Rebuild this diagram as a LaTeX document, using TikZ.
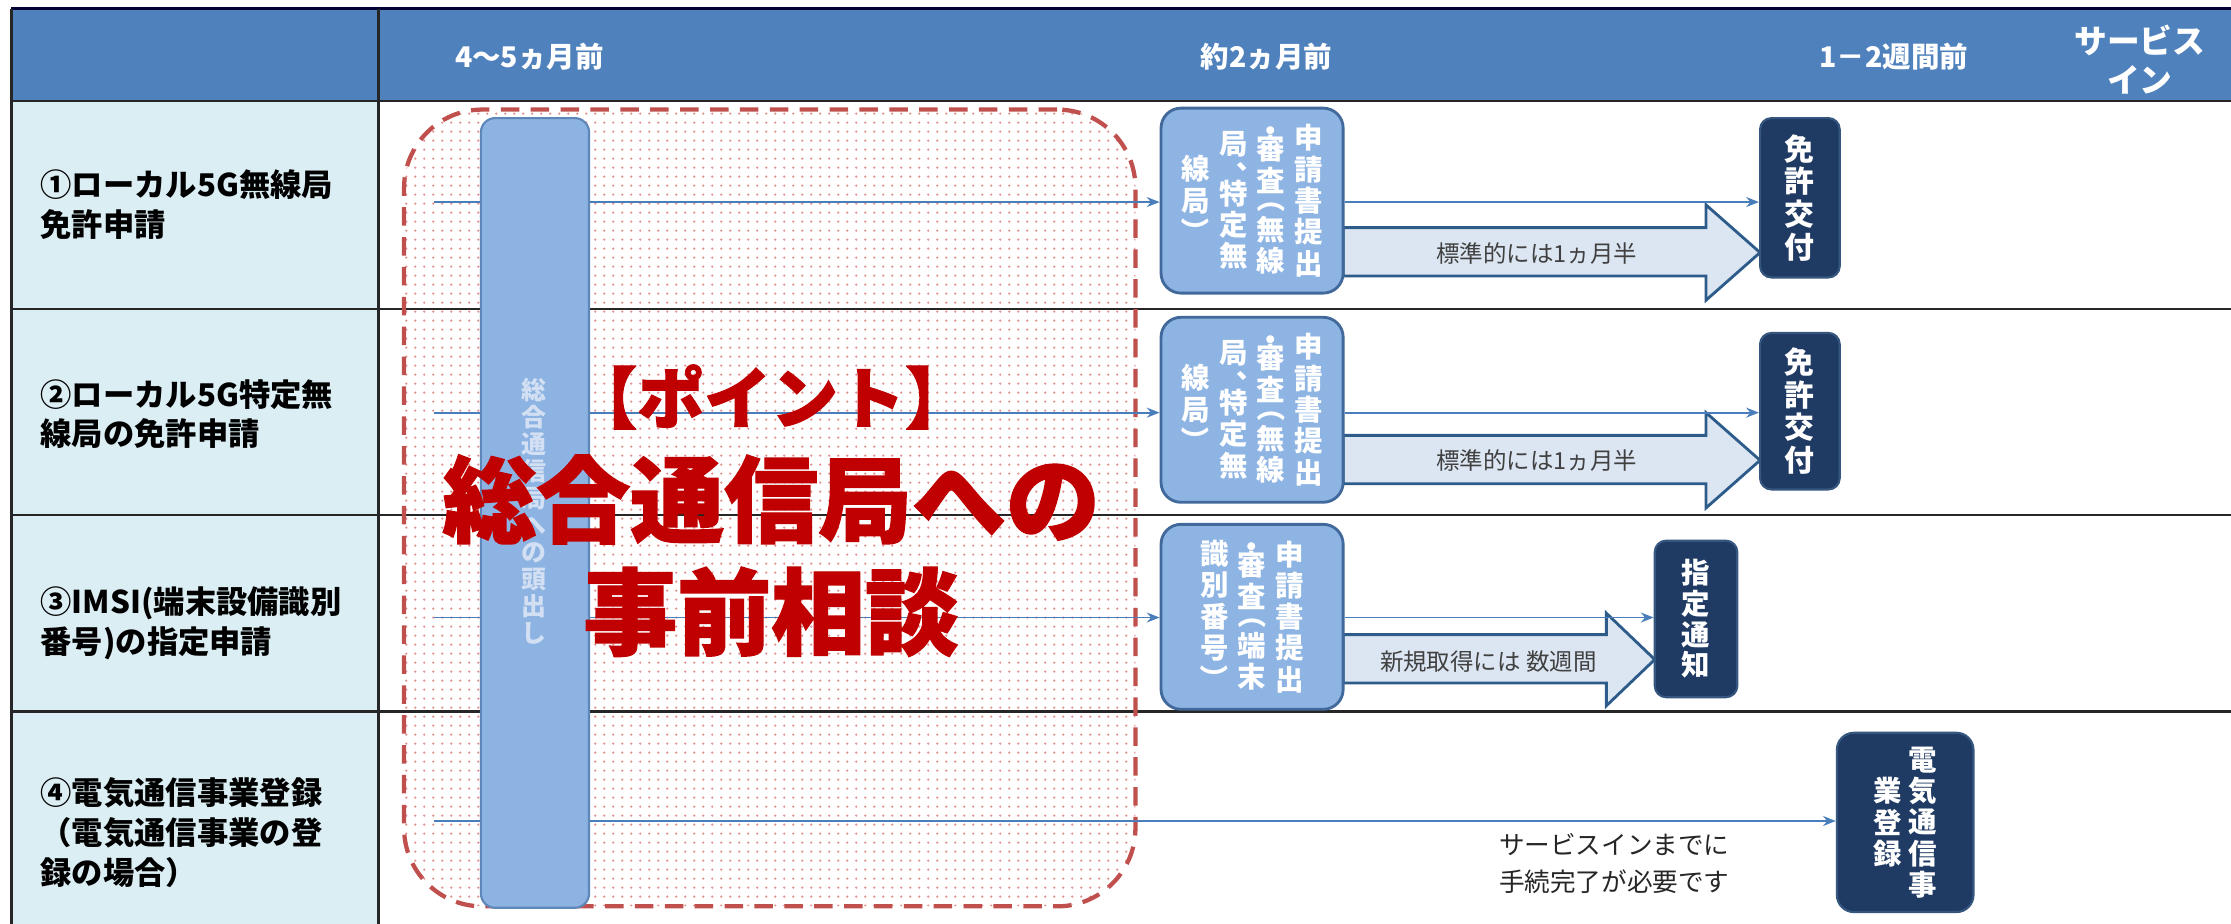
\documentclass[tikz,border=0pt]{standalone}
\usepackage{tikz}
\usepackage{graphicx}
\usepackage{fontspec}
\newfontfamily\jp{Noto Sans CJK JP}
\usetikzlibrary{patterns.meta,arrows.meta}
\pgfdeclarelayer{bg}
\pgfdeclarelayer{mid}
\pgfsetlayers{bg,mid,main}
\definecolor{hdr}{HTML}{4F81BD}
\definecolor{lcol}{HTML}{DBEEF3}
\definecolor{appfill}{HTML}{8EB4E3}
\definecolor{appedge}{HTML}{41699C}
\definecolor{barfill}{HTML}{8DB3E2}
\definecolor{baredge}{HTML}{5E86B8}
\definecolor{darkfill}{HTML}{1F3A63}
\definecolor{darkedge}{HTML}{35577F}
\definecolor{bigfill}{HTML}{DCE6F2}
\definecolor{bigedge}{HTML}{2E5C8A}
\definecolor{arrowblue}{HTML}{4A7EBB}
\definecolor{dashred}{HTML}{C0504D}
\definecolor{dotred}{HTML}{E39292}
\definecolor{redtxt}{HTML}{C00000}
\definecolor{textgray}{HTML}{404040}
\definecolor{barText}{HTML}{D3E0F3}
% vertical text helpers
\newcommand\vcol[2]{\ensuremath{\vcenter{\baselineskip=#1\relax\lineskiplimit=-\maxdimen\lineskip=0pt\relax #2}}}
\newcommand\vq[1]{\hbox to 1em{\hss#1\hss}}
\newcommand\vh{\vskip-0.42\baselineskip}
\newcommand\vop{\rotatebox[origin=c]{-90}{（}}
\newcommand\vcl{\rotatebox[origin=c]{-90}{）}}
\begin{document}
\begin{tikzpicture}[x=1pt,y=-1pt,font=\jp,
  tablerule/.style={draw=black!85,line width=1.6pt},
  thinarr/.style={draw=arrowblue,line width=1.3pt,-{Stealth[length=9pt,width=7pt]}},
  appbox/.style={draw=appedge,line width=2pt,fill=appfill,rounded corners=14pt,inner sep=0pt,text=white,
    minimum width=128pt,font=\jp\bfseries\fontsize{20}{22}\selectfont},
  darkbox/.style={draw=darkedge,line width=1.5pt,fill=darkfill,rounded corners=8pt,inner sep=0pt,text=white,
    font=\jp\bfseries\fontsize{20}{21}\selectfont},
  bigarrow/.style={draw=bigedge,line width=2pt,fill=bigfill,line join=miter},
  hdrtext/.style={text=white,font=\jp\bfseries\fontsize{20}{24}\selectfont},
  rowlabel/.style={anchor=west,align=left,font=\jp\bfseries\fontsize{22}{28}\selectfont},
  arrlabel/.style={text=textgray,font=\jp\fontsize{16.5}{20}\selectfont},
  redbig/.style={text=redtxt,font=\jp\bfseries\addfontfeature{FakeBold=1.5}\fontsize{66}{70}\selectfont}
]
\useasboundingbox (0,0) rectangle (1568,649);

% ---------- table ----------
\begin{pgfonlayer}{bg}
\fill[white] (0,0) rectangle (1568,649);
\fill[hdr] (8,6) rectangle (1570,71);
\fill[lcol] (8,71) rectangle (266,650);
\draw[draw=black!80!blue,line width=2pt] (8,6) -- (1570,6);
\draw[tablerule] (8,71) -- (1570,71);
\draw[tablerule] (8,217) -- (1570,217);
\draw[tablerule] (8,362) -- (1570,362);
\draw[tablerule] (8,500) -- (1570,500);
\draw[tablerule] (8,6) -- (8,650);
\draw[tablerule] (266,6) -- (266,650);
\node[draw=dashred,line width=3pt,dash pattern=on 13pt off 8pt,rounded corners=55pt,
  minimum width=514pt,minimum height=560pt,inner sep=0pt,
  pattern={Dots[distance=6.5pt,radius=0.95pt]},pattern color=dotred] (focus) at (541,357) {};
\end{pgfonlayer}

% ---------- header texts ----------
\node[hdrtext] (h1) at (372,40) {4～5ヵ月前};
\node[hdrtext] (h2) at (890,40) {約2ヵ月前};
\node[hdrtext] (h3) at (1331,40) {1－2週間前};
\node[hdrtext,align=center,font=\jp\bfseries\fontsize{23}{27}\selectfont] (h4) at (1504,42) {サービス\\イン};

% ---------- row labels ----------
\node[rowlabel] (r1) at (25,144) {①ローカル5G無線局\\免許申請};
\node[rowlabel] (r2) at (25,291) {②ローカル5G特定無\\線局の免許申請};
\node[rowlabel] (r3) at (25,438) {③IMSI(端末設備識別\\番号)の指定申請};
\node[rowlabel] (r4) at (25,585) {④電気通信事業登録\\（電気通信事業の登\\録の場合）};

% ---------- boxes ----------
\node[draw=baredge,line width=1.5pt,fill=barfill,rounded corners=10pt,minimum width=76pt,minimum height=555pt,
  inner sep=0pt] (bar) at (376,360.5) {};
\node[text=barText,font=\jp\bfseries\fontsize{17.5}{19}\selectfont,inner sep=0pt] (bartext) at (375,359.5)
  {\vcol{19pt}{\vq{総}\vq{合}\vq{通}\vq{信}\vq{局}\vq{へ}\vq{の}\vq{頭}\vq{出}\vq{し}}};

\node[appbox,minimum height=130pt] (app1) at (880,141)
  {\vcol{22pt}{\vq{線}\vq{局}\vq{\vcl}}\hspace{6.5pt}%
   \vcol{22pt}{\vq{局}\vq{︑}\vh\vq{特}\vq{定}\vq{無}}\hspace{6.5pt}%
   \vcol{22pt}{\vq{・}\vh\vq{審}\vq{査}\vh\vq{\vop}\vq{無}\vq{線}}\hspace{6.5pt}%
   \vcol{22pt}{\vq{申}\vq{請}\vq{書}\vq{提}\vq{出}}};
\node[appbox,minimum height=130pt] (app2) at (880,288)
  {\vcol{22pt}{\vq{線}\vq{局}\vq{\vcl}}\hspace{6.5pt}%
   \vcol{22pt}{\vq{局}\vq{︑}\vh\vq{特}\vq{定}\vq{無}}\hspace{6.5pt}%
   \vcol{22pt}{\vq{・}\vh\vq{審}\vq{査}\vh\vq{\vop}\vq{無}\vq{線}}\hspace{6.5pt}%
   \vcol{22pt}{\vq{申}\vq{請}\vq{書}\vq{提}\vq{出}}};
\node[appbox,minimum height=130pt] (app3) at (880,433.5)
  {\vcol{22pt}{\vq{識}\vq{別}\vq{番}\vq{号}\vq{\vcl}}\hspace{6.5pt}%
   \vcol{22pt}{\vq{・}\vh\vq{審}\vq{査}\vh\vq{\vop}\vq{端}\vq{末}}\hspace{6.5pt}%
   \vcol{22pt}{\vq{申}\vq{請}\vq{書}\vq{提}\vq{出}}};

\node[darkbox,minimum width=56pt,minimum height=112pt,font=\jp\bfseries\fontsize{21}{22}\selectfont] (lic1) at (1265,139)
  {\vcol{23pt}{\vq{免}\vq{許}\vq{交}\vq{付}}};
\node[darkbox,minimum width=56pt,minimum height=110pt,font=\jp\bfseries\fontsize{21}{22}\selectfont] (lic2) at (1265,289)
  {\vcol{23pt}{\vq{免}\vq{許}\vq{交}\vq{付}}};
\node[darkbox,minimum width=58pt,minimum height=110pt,font=\jp\bfseries\fontsize{20}{21}\selectfont] (not3) at (1192,435)
  {\vcol{21.5pt}{\vq{指}\vq{定}\vq{通}\vq{知}}};
\node[darkbox,minimum width=96pt,minimum height=126pt,rounded corners=12pt,font=\jp\bfseries\fontsize{20}{21}\selectfont] (reg4) at (1339,578)
  {\vcol{22pt}{\vq{業}\vq{登}\vq{録}}\hspace{4pt}\vcol{22pt}{\vq{電}\vq{気}\vq{通}\vq{信}\vq{事}}};

% ---------- connectors ----------
\coordinate (s1) at (305,142);
\coordinate (s2) at (305,290);
\coordinate (s3) at (305,434);
\coordinate (s4) at (305,577);
\begin{pgfonlayer}{mid}
\draw[thinarr] (s1) -- (s1 -| app1.west);
\draw[thinarr] (s2) -- (s2 -| app2.west);
\draw[thinarr] (s3) -- (s3 -| app3.west);
\draw[thinarr] (s4) -- (s4 -| reg4.west);
\draw[bigarrow] (944,160) -- (1199,160) -- (1199,144) -- (1237,177.5) -- (1199,211) -- (1199,194) -- (944,194) -- cycle;
\draw[bigarrow] (944,306) -- (1199,306) -- (1199,290) -- (1237,323.5) -- (1199,357) -- (1199,340) -- (944,340) -- cycle;
\draw[bigarrow] (944,446) -- (1129,446) -- (1129,431) -- (1163,463.5) -- (1129,496) -- (1129,480) -- (944,480) -- cycle;
\draw[thinarr] (app1.east |- s1) -- (s1 -| lic1.west);
\draw[thinarr] (app2.east |- s2) -- (s2 -| lic2.west);
\draw[thinarr] (app3.east |- s3) -- (s3 -| not3.west);
\end{pgfonlayer}

\node[arrlabel] (t1) at (1080,178) {標準的には1ヵ月半};
\node[arrlabel] (t2) at (1080,324) {標準的には1ヵ月半};
\node[arrlabel] (t3) at (1046,465) {新規取得には 数週間};
\node[anchor=west,align=left,font=\jp\fontsize{18}{26}\selectfont,text=black!85] (t4) at (1050,607)
  {サービスインまでに\\手続完了が必要です};

% ---------- big red message ----------
\node[redbig,font=\jp\bfseries\addfontfeature{FakeBold=1.5}\fontsize{47}{50}\selectfont] (pt) at (542,279) {【ポイント】};
\node[redbig] (m1) at (542,351) {総合通信局への};
\node[redbig] (m2) at (542,430) {事前相談};
\end{tikzpicture}
\end{document}
